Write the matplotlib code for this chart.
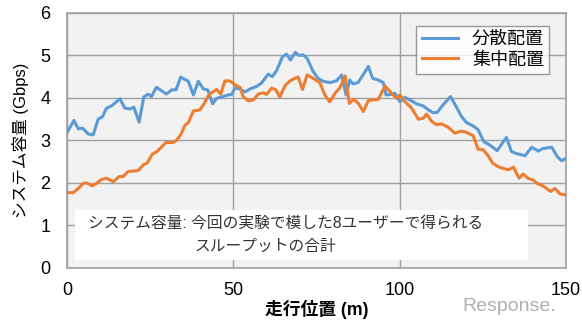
import matplotlib
matplotlib.use('Agg')
import matplotlib.pyplot as plt
from matplotlib.patches import Rectangle

plt.rcParams['font.family'] = ['Liberation Sans', 'Noto Sans CJK JP', 'DejaVu Sans']

# 分散配置 (blue)
x_dist = [0, 2.1, 3.4, 4.7, 6.4, 7.9, 9.4, 10.7, 11.9, 13.4, 15.9, 17.4, 18.9, 20.1,
          21.7, 23.1, 24.4, 25.4, 26.9, 29.9, 31.5, 32.8, 34.2, 36.5, 38, 39.5, 41,
          42.3, 43.8, 45, 46.8, 48.5, 49.5, 50.5, 52, 53.5, 55, 57, 58.5, 60.5, 61.7,
          63, 64.8, 66, 67.2, 68.6, 69.8, 71, 72.2, 74, 75.5, 77, 79, 81, 82.6, 83.9,
          85, 86, 87.5, 89, 90.6, 91.9, 93.6, 95.1, 95.9, 97.1, 98.6, 100.1, 101.6,
          103.1, 105.1, 107.1, 108.6, 110.1, 111.3, 113.1, 115.3, 117.1, 118.6, 120.1,
          122.1, 123.6, 125.3, 127.1, 129.3, 132.1, 133.6, 135.1, 137.7, 139.7, 141.7,
          143.1, 145.7, 147.4, 148.7, 150]
y_dist = [3.18, 3.47, 3.27, 3.29, 3.15, 3.13, 3.5, 3.56, 3.76, 3.81, 3.98, 3.76, 3.74, 3.78,
          3.43, 4.02, 4.09, 4.03, 4.25, 4.09, 4.19, 4.19, 4.49, 4.39, 4.07, 4.39, 4.21,
          4.19, 3.86, 3.99, 4.03, 4.07, 4.08, 4.23, 4.21, 4.14, 4.21, 4.27, 4.35, 4.56, 4.5,
          4.64, 4.97, 5.03, 4.89, 5.07, 5.0, 5.01, 4.93, 4.62, 4.46, 4.39, 4.36, 4.4, 4.54, 4.07,
          4.42, 4.33, 4.36, 4.54, 4.74, 4.46, 4.42, 4.36, 4.07, 4.08, 4.11, 3.91, 4.01,
          3.95, 3.86, 3.81, 3.72, 3.65, 3.66, 3.84, 4.03, 3.78, 3.56, 3.42,
          3.34, 3.25, 2.97, 2.89, 2.76, 3.07, 2.74, 2.69, 2.64, 2.84, 2.75,
          2.81, 2.84, 2.62, 2.52, 2.58]

# 集中配置 (orange)
x_conc = [0, 1.9, 3.4, 4.9, 6, 7.6, 8.9, 10.4, 11.9, 13.9, 15.7, 16.9, 18.4, 21.4, 22.9,
          24.1, 25.7, 27.1, 28.4, 29.7, 31.9, 32.9, 34.2, 35.5, 36.5, 38, 40, 41.2, 42.5,
          43.5, 45, 46.2, 47.5, 49, 50.5, 52, 53, 54.5, 56, 57.5, 59, 60, 61.5, 62.8, 64,
          65.5, 67, 68.5, 69.5, 70.8, 72.2, 74, 76, 77.5, 79, 80.6, 82, 83.1, 83.6, 84.9,
          86.1, 87.6, 89.1, 90.6, 92.1, 93.6, 95.6, 97.1, 99.1, 100.1, 101.6, 103.6, 105.6,
          107.1, 108.1, 109.6, 111.1, 112.6, 114.6, 116.6, 118.6, 120.1, 122.1, 123.6,
          125.1, 126.6, 128, 129.7, 131.2, 132.7, 134.2, 135.9, 137.1, 138.6, 140.1,
          141.3, 143.1, 145.4, 146.7, 148.2, 150]
y_conc = [1.77, 1.77, 1.87, 1.99, 2.0, 1.93, 1.99, 2.08, 2.11, 2.03, 2.15, 2.15, 2.27, 2.29, 2.42,
          2.47, 2.68, 2.74, 2.84, 2.95, 2.95, 3.0, 3.13, 3.36, 3.42, 3.69, 3.72, 3.86, 4.05,
          4.12, 4.2, 4.09, 4.4, 4.4, 4.31, 4.25, 4.03, 3.93, 3.95, 4.09, 4.12, 4.08, 4.23, 4.19, 4.02,
          4.28, 4.4, 4.46, 4.49, 4.2, 4.54, 4.46, 4.36, 4.07, 3.91, 4.11, 4.23, 4.42, 4.52, 3.87,
          3.97, 3.87, 3.68, 3.94, 3.95, 3.97, 4.28, 4.15, 3.99, 4.07, 3.91, 3.76, 3.5,
          3.52, 3.62, 3.45, 3.37, 3.39, 3.31, 3.17, 3.22, 3.19, 3.11, 2.79,
          2.78, 2.64, 2.46, 2.38, 2.34, 2.31, 2.37, 2.11, 2.21, 2.11, 2.07,
          1.99, 1.93, 1.8, 1.87, 1.74, 1.72]

x_ticks = [0, 50, 100, 150]
y_ticks = [0, 1, 2, 3, 4, 5, 6]

fig = plt.figure(figsize=(5.82, 3.30), dpi=100)
ax = fig.add_axes([0.115, 0.188, 0.8575, 0.773])
ax.set_facecolor('#f2f2f2')

ax.plot(x_dist, y_dist, color='#5b9bd5', lw=2.2, label='分散配置', zorder=3)
ax.plot(x_conc, y_conc, color='#ed7d31', lw=2.2, label='集中配置', zorder=3)

ax.set_xlim(0, 150)
ax.set_ylim(0, 6)
ax.set_xticks(x_ticks)
ax.set_yticks(y_ticks)
ax.grid(True, color='#a0a0a0', lw=1.0, zorder=0)
ax.set_axisbelow(True)
ax.tick_params(length=0, labelsize=13)
ax.tick_params(axis='x', pad=10)
ax.tick_params(axis='y', pad=12)
for s in ax.spines.values():
    s.set_color('#a0a0a0')
    s.set_linewidth(1.2)

ax.set_xlabel('走行位置 (m)', fontsize=12.8, fontweight='bold', labelpad=1)
ax.set_ylabel('システム容量 (Gbps)', fontsize=12, labelpad=8)

leg = ax.legend(loc='upper right', fontsize=13, frameon=True, fancybox=False,
                handlelength=2.0, borderpad=0.3, labelspacing=0.2,
                bbox_to_anchor=(0.985, 0.985))
leg.get_frame().set_edgecolor('#808080')
leg.get_frame().set_linewidth(1.0)

# note box
ax.add_patch(Rectangle((0.016, 0.031), 0.908, 0.196, transform=ax.transAxes,
                       fc='white', ec='none', zorder=4))
ax.text(0.042, 0.175, 'システム容量: 今回の実験で模した8ユーザーで得られる',
        transform=ax.transAxes, ha='left', va='center', fontsize=11.3,
        color='#333333', zorder=5)
ax.text(0.397, 0.085, 'スループットの合計',
        transform=ax.transAxes, ha='center', va='center', fontsize=11.3,
        color='#333333', zorder=5)

fig.text(0.875, 0.07, 'Response.', color='#b0b0b0', fontsize=14, ha='center', va='center')

plt.savefig('out.png', dpi=100)
plt.close()
